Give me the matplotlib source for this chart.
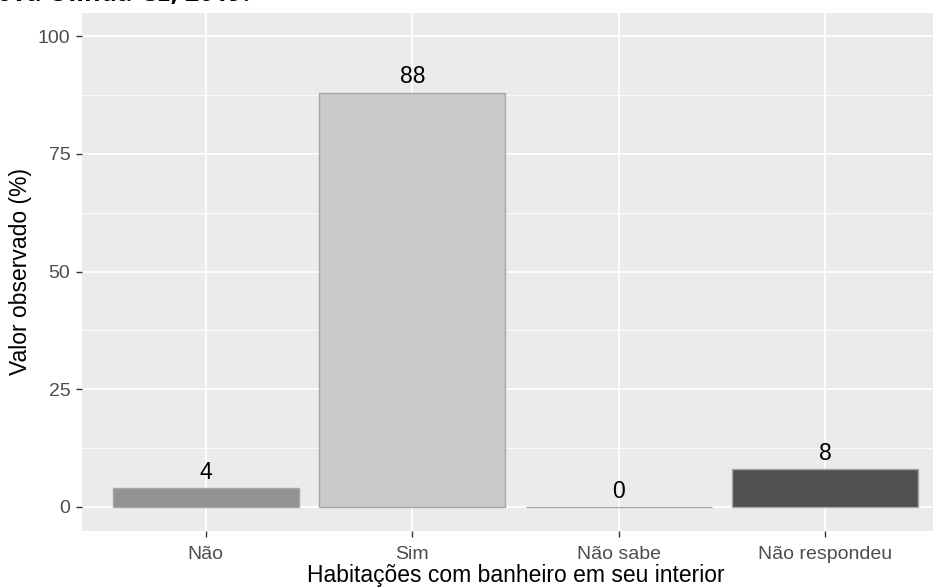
import matplotlib.pyplot as plt

# dados do grafico
categorias = ['Não', 'Sim', 'Não sabe', 'Não respondeu']
valores = [4, 88, 0, 8]
cores = ['#939393', '#CACACA', '#B8B8B8', '#505050']
yticks = [0, 25, 50, 75, 100]

W, H = 933, 588
fig = plt.figure(figsize=(W / 100, H / 100), dpi=100)
plt.rcParams['font.family'] = ['Liberation Sans', 'DejaVu Sans']

# painel (a borda direita fica cortada como no original)
left, right, top, bottom = 82, 949, 12.5, 530.5
ax = fig.add_axes([left / W, 1 - bottom / H, (right - left) / W, (bottom - top) / H])
ax.set_facecolor('#EBEBEB')

x = range(1, len(categorias) + 1)
ax.bar(x, valores, width=0.9, color=cores, edgecolor='#A6A6A6', linewidth=1, zorder=3)
for xi, v in zip(x, valores):
    ax.annotate(str(v), (xi, v), xytext=(0, 3), textcoords='offset points',
                ha='center', va='bottom', fontsize=16.5, color='black', zorder=4)

ax.set_xlim(0.4, 4.6)
ax.set_ylim(-5, 105)
ax.set_xticks(list(x))
ax.set_xticklabels(categorias)
ax.set_yticks(yticks)
ax.set_yticks([12.5, 37.5, 62.5, 87.5], minor=True)
ax.grid(True, which='major', color='white', linewidth=1.3, zorder=0)
ax.grid(True, which='minor', axis='y', color='white', linewidth=0.6, zorder=0)
ax.set_axisbelow(True)
for s in ax.spines.values():
    s.set_visible(False)
ax.tick_params(which='major', length=4.3, width=1, color='#333333', labelcolor='#4D4D4D',
               labelsize=14, pad=4)
ax.tick_params(axis='x', pad=7)
ax.tick_params(which='minor', length=0)

ax.set_xlabel('Habitações com banheiro em seu interior', fontsize=16.5, labelpad=0.5)
ax.set_ylabel('Valor observado (%)', fontsize=16.5, labelpad=4)

# titulo cortado no topo da imagem
fig.text(250 / W, 1 - 0.8 / H, 'Nova Olinda-CE, 2019.', ha='right', va='baseline',
         fontsize=18.3, fontweight='bold', family='Open Sans')

fig.savefig('out.png', dpi=100)
